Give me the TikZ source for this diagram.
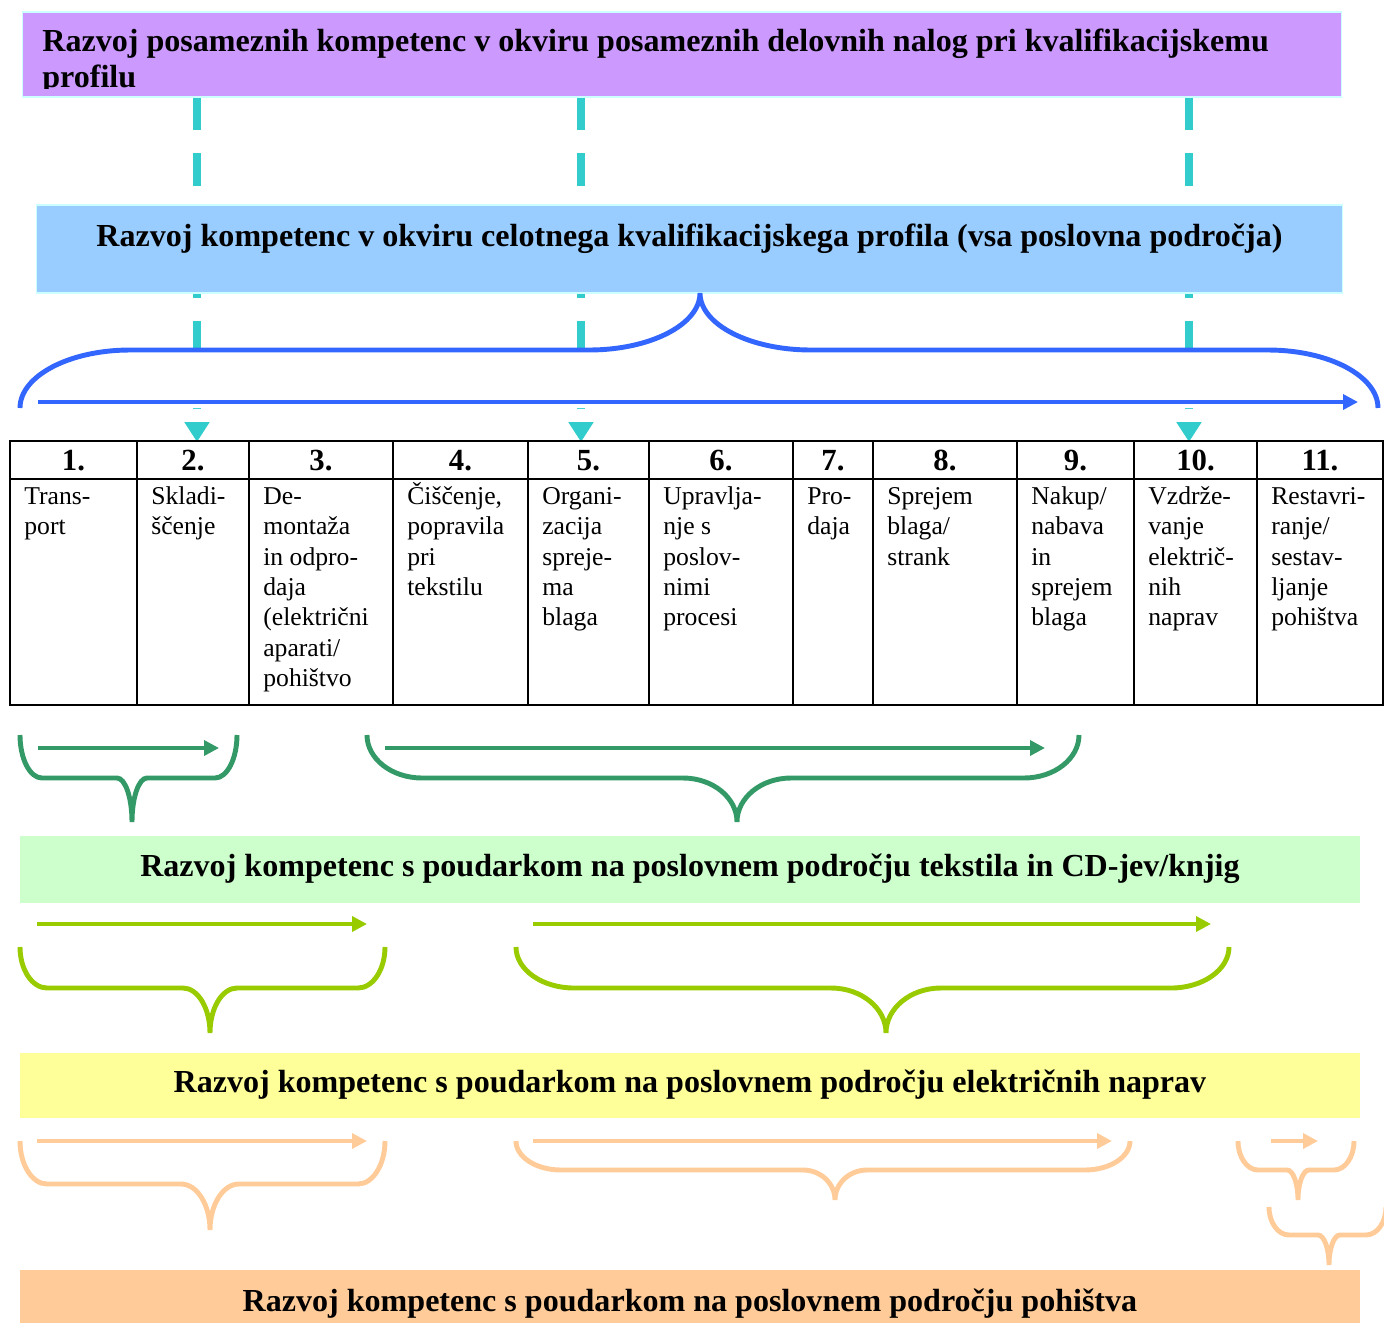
\documentclass[tikz,border=0pt]{standalone}
\usepackage{fontspec}
\setmainfont{Liberation Serif}
\usetikzlibrary{arrows.meta}

\definecolor{lila}{HTML}{CC99FF}
\definecolor{nebo}{HTML}{99CCFF}
\definecolor{rim}{HTML}{CCFFFF}
\definecolor{tirkiz}{HTML}{33CCCC}
\definecolor{modra}{HTML}{3366FF}
\definecolor{temnozel}{HTML}{339966}
\definecolor{svetlozel}{HTML}{CCFFCC}
\definecolor{limeta}{HTML}{99CC00}
\definecolor{rumena}{HTML}{FFFF99}
\definecolor{oranzna}{HTML}{FFCC99}

\newcommand{\titlefont}{\fontsize{18.25}{20.4}\selectfont\bfseries}
\newcommand{\cellstrut}{\rule{0pt}{14pt}}

\tikzset{
  fieldbox/.style={inner sep=0pt, minimum width=26.8cm, font=\titlefont,
    text height=13pt},
  dashcon/.style={draw=tirkiz, line width=4.5pt, dash pattern=on 18.71pt off 13.04pt,
    -{Triangle[length=11.3pt,width=13.6pt]}},
  spanarrow/.style={line width=2pt, -{Triangle[length=8.5pt,width=8.5pt]}},
  spanbrace/.style={line width=2.8pt},
  grid/.style={line width=1.1pt},
  numtxt/.style={anchor=base, inner sep=0pt, font=\fontsize{17.5}{20}\selectfont\bfseries},
  celltxt/.style={anchor=north west, inner sep=0pt, align=left,
    font=\fontsize{14.6}{17.3}\selectfont}
}

% brace: style, left x, tip x, right x, end y, flat y, tip y, end radius, tip radius
\newcommand{\kbrace}[9]{%
  \draw[#1] (#2,#5) .. controls (#2,{#5+0.552*(#6-#5)}) and ({#2+0.448*#8},#6) .. ({#2+#8},#6)
    -- ({#3-#9},#6) .. controls ({#3-0.448*#9},#6) and (#3,{#7-0.552*(#7-#6)}) .. (#3,#7)
    .. controls (#3,{#7-0.552*(#7-#6)}) and ({#3+0.448*#9},#6) .. ({#3+#9},#6)
    -- ({#4-#8},#6) .. controls ({#4-0.448*#8},#6) and (#4,{#5+0.552*(#6-#5)}) .. (#4,#5);}

\begin{document}
\begin{tikzpicture}[x=0.02cm, y=-0.02cm]
  \useasboundingbox (0,0) rectangle (1384,1323);
  \clip (0,0) rectangle (1384,1323);

  % Top level: single work tasks
  \node[draw=rim, line width=0.6pt, fill=lila, inner sep=0pt,
        minimum width=26.4cm, minimum height=1.7cm] (lvl1) at (682,54.5) {};
  \begin{scope}
    \clip (lvl1.north west) rectangle (1342,88);
    \node[anchor=north west, inner sep=0pt, align=left, font=\titlefont] (lvl1t) at (42,26.3)
      {\cellstrut Razvoj posameznih kompetenc v okviru posameznih delovnih nalog pri kvalifikacijskemu\\profilu};
  \end{scope}

  % Dashed links down to the table
  \coordinate (a2) at (197,442);
  \coordinate (a5) at (581,442);
  \coordinate (a10) at (1189,442);
  \foreach \a in {a2,a5,a10}
    \draw[dashcon] (lvl1.south -| \a) -- (\a);

  % Whole profile
  \node[draw=rim, line width=0.6pt, fill=nebo, inner sep=0pt, font=\titlefont,
        minimum width=26.14cm, minimum height=1.76cm, text height=13pt, text depth=15.3pt]
        (lvl2) at (689.5,249) {Razvoj kompetenc v okviru celotnega kvalifikacijskega profila (vsa poslovna področja)};

  \kbrace{fill=white, draw=none}{20}{700}{1378}{408}{350}{293}{110}{111}
  \kbrace{spanbrace, modra}{20}{700}{1378}{408}{350}{293}{110}{111}
  \draw[spanarrow, modra] (38,402) -- (1358,402);

  % Table of work tasks
  \foreach \n/\xa/\xb/\txt in {
      1/10/137/{Trans-\\port},
      2/137/249/{Skladi-\\ščenje},
      3/249/393/{De-\\montaža\\in odpro-\\daja\\(električni\\aparati/\\pohištvo},
      4/393/528/{Čiščenje,\\popravila\\pri\\tekstilu},
      5/528/649/{Organi-\\zacija\\spreje-\\ma\\blaga},
      6/649/793/{Upravlja-\\nje s\\poslov-\\nimi\\procesi},
      7/793/873/{Pro-\\daja},
      8/873/1017/{Sprejem\\blaga/\\strank},
      9/1017/1134/{Nakup/\\nabava\\in\\sprejem\\blaga},
      10/1134/1257/{Vzdrže-\\vanje\\električ-\\nih\\naprav},
      11/1257/1383/{Restavri-\\ranje/\\sestav-\\ljanje\\pohištva}}
  {
    \draw[grid] (\xa,441) rectangle (\xb,479);
    \draw[grid] (\xa,479) rectangle (\xb,705);
    \node[numtxt] (h\n) at ({(\xa+\xb)/2},470) {\n.};
    \node[celltxt] (c\n) at ({\xa+14},479.3) {\cellstrut\txt};
  }

  % Textiles and CDs/books
  \kbrace{spanbrace, temnozel}{20}{132}{237}{735}{778}{822}{22}{15}
  \draw[spanarrow, temnozel] (38,748) -- (219,748);
  \kbrace{spanbrace, temnozel}{367}{737}{1079}{735}{778}{822}{55}{54}
  \draw[spanarrow, temnozel] (385,748) -- (1045,748);
  \node[fieldbox, fill=svetlozel, minimum height=1.34cm, text depth=4.5pt] (tekstil)
    at (690,869.5) {Razvoj kompetenc s poudarkom na poslovnem področju tekstila in CD-jev/knjig};

  % Electrical appliances
  \draw[spanarrow, limeta] (37,924) -- (367,924);
  \kbrace{spanbrace, limeta}{20}{210}{385}{947}{988}{1033}{27}{27}
  \draw[spanarrow, limeta] (533,924) -- (1211,924);
  \kbrace{spanbrace, limeta}{516}{886}{1229}{947}{988}{1033}{58}{55}
  \node[fieldbox, fill=rumena, minimum height=1.3cm, text depth=4.5pt] (elektro)
    at (690,1085.5) {Razvoj kompetenc s poudarkom na poslovnem področju električnih naprav};

  % Furniture
  \draw[spanarrow, oranzna] (37,1141) -- (367,1141);
  \kbrace{spanbrace, oranzna}{20}{210}{385}{1141}{1184}{1230}{27}{29}
  \draw[spanarrow, oranzna] (533,1141) -- (1112,1141);
  \kbrace{spanbrace, oranzna}{516}{835}{1130}{1141}{1170}{1200}{45}{32}
  \draw[spanarrow, oranzna] (1271,1141) -- (1318,1141);
  \kbrace{spanbrace, oranzna}{1238}{1298}{1354}{1141}{1170}{1200}{20}{11}
  \kbrace{spanbrace, oranzna}{1269}{1329}{1386}{1207}{1235}{1265}{20}{11}
  \node[fieldbox, fill=oranzna, minimum height=1.32cm, text depth=2.8pt] (pohistvo)
    at (690,1303) {Razvoj kompetenc s poudarkom na poslovnem področju pohištva};
\end{tikzpicture}
\end{document}
